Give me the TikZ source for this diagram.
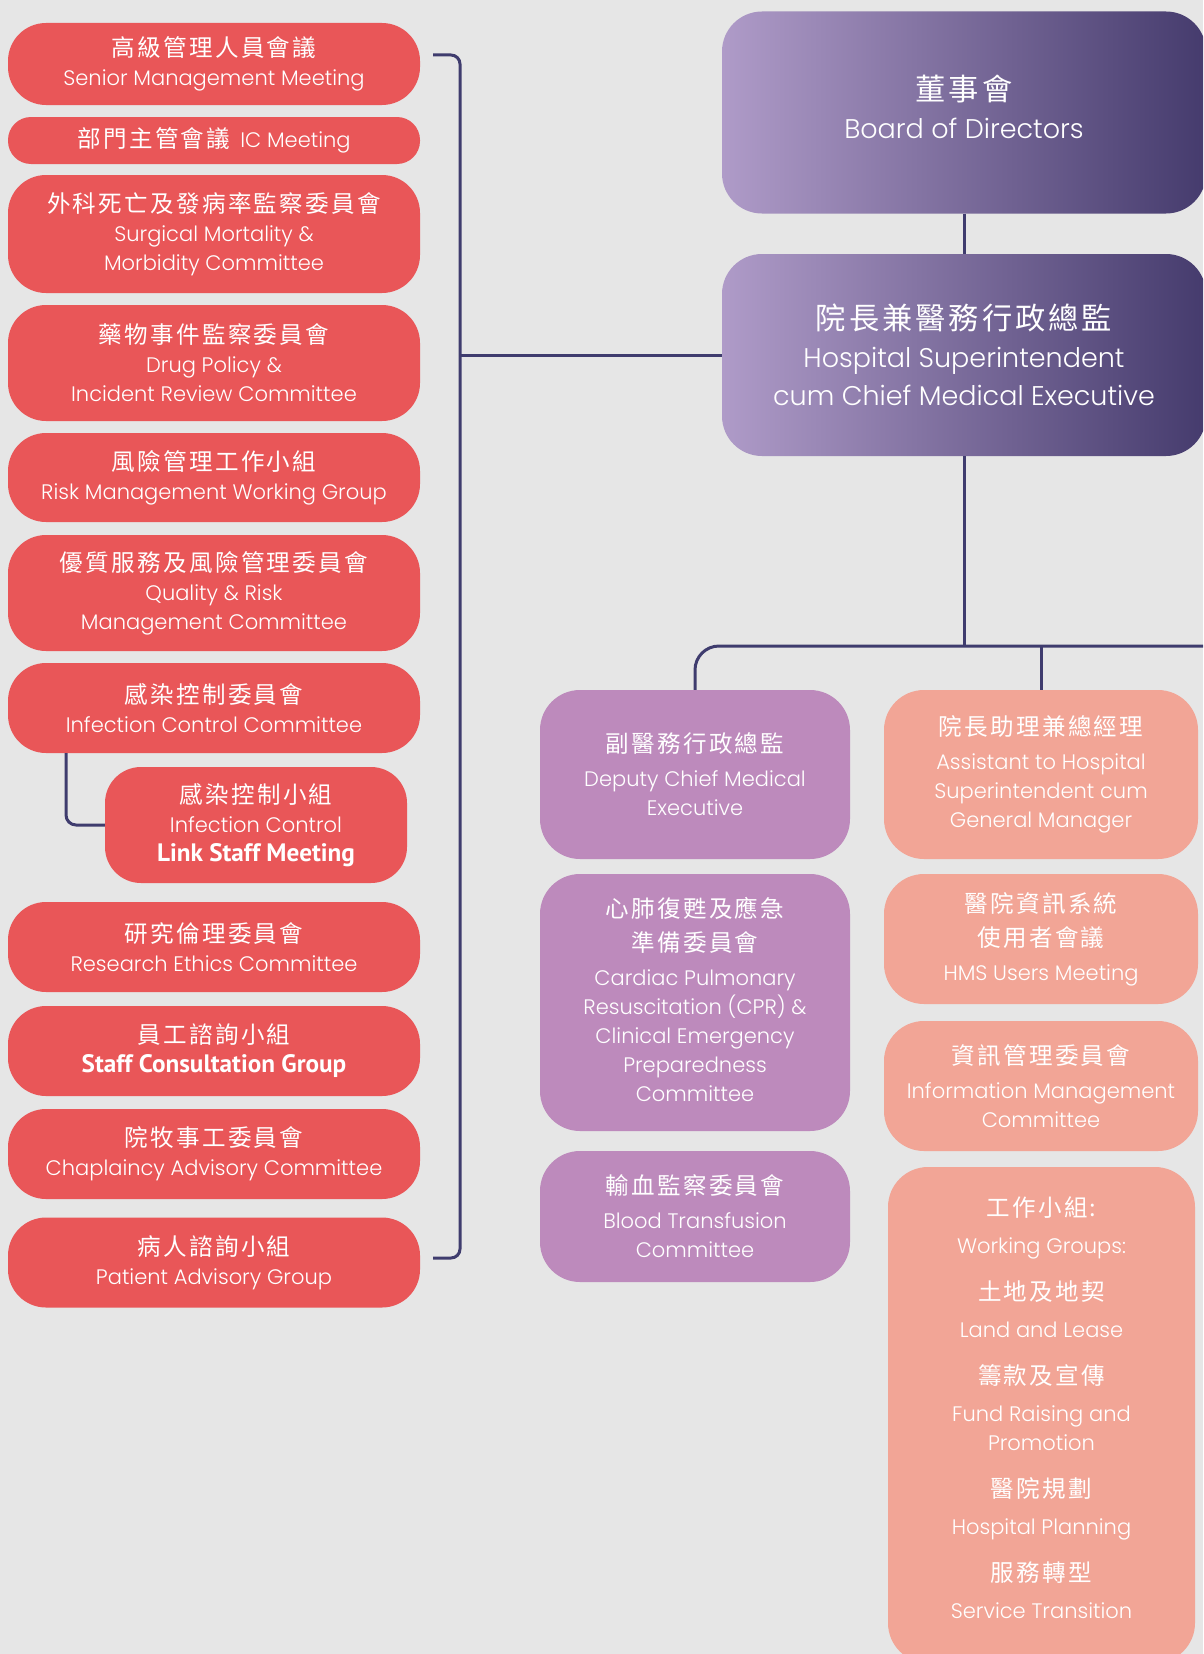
\documentclass[tikz,border=0pt]{standalone}
\usepackage{fontspec}
\setmainfont{Poppins}[UprightFont={* Light}]
\newfontfamily\cjk{Noto Sans CJK TC}[LetterSpace=10,Scale=1.12]
\newfontfamily\boldf{PT Sans}[Scale=1.2]
\definecolor{bgc}{HTML}{E6E6E6}
\definecolor{cred}{HTML}{E95658}
\definecolor{cpurp}{HTML}{BD8ABC}
\definecolor{csal}{HTML}{F2A596}
\definecolor{navy}{HTML}{3F3C6E}
\definecolor{gl}{HTML}{AF9BC8}
\definecolor{gr}{HTML}{453B6D}
\begin{document}
\begin{tikzpicture}[x=1pt,y=-1pt,
  lft/.style={font=\fontsize{21}{29}\selectfont},
  box/.style={inner sep=0pt, align=center, text=white, lft},
  redbox/.style={box, fill=cred, rounded corners=38pt, minimum width=412pt},
  purpbox/.style={box, fill=cpurp, rounded corners=40pt, minimum width=310pt},
  salbox/.style={box, fill=csal, rounded corners=40pt, minimum width=314pt},
  topbox/.style={inner sep=0pt, align=center, text=white, font=\fontsize{27}{38}\selectfont, rounded corners=40pt, left color=gl, right color=gr, minimum width=484pt, minimum height=202pt},
  conn/.style={draw=navy, line width=3pt},
]
\useasboundingbox (0,0) rectangle (1203,1654);
\clip (0,0) rectangle (1203,1654);
\fill[bgc] (0,0) rectangle (1203,1654);

% top boxes
\node[topbox] (board) at (964,112.5) {{\cjk 董事會}\\Board of Directors\\[-26pt]};
\node[topbox] (super) at (964,355) {{\cjk 院長兼醫務行政總監}\\Hospital Superintendent\\cum Chief Medical Executive};

% left column
\node[redbox, minimum height=82pt] (senior) at (214,64) {{\cjk 高級管理人員會議}\\Senior Management Meeting};
\node[redbox, minimum height=47pt, rounded corners=23pt] (icm) at (214,140.5) {{\cjk 部門主管會議}\hspace{10pt}IC Meeting};
\node[redbox, minimum height=118pt] (surg) at (214,234) {{\cjk 外科死亡及發病率監察委員會}\\Surgical Mortality \&\\Morbidity Committee};
\node[redbox, minimum height=116pt] (drug) at (214,363) {{\cjk 藥物事件監察委員會}\\Drug Policy \&\\Incident Review Committee};
\node[redbox, minimum height=89pt] (risk) at (214,477.5) {{\cjk 風險管理工作小組}\\Risk Management Working Group};
\node[redbox, minimum height=116pt] (qual) at (214,593) {{\cjk 優質服務及風險管理委員會}\\Quality \& Risk\\Management Committee};
\node[redbox, minimum height=90pt] (infc) at (214,708) {{\cjk 感染控制委員會}\\Infection Control Committee};
\node[redbox, minimum width=302pt, minimum height=116pt, rounded corners=36pt] (link) at (256,825) {{\cjk 感染控制小組}\\Infection Control\\{\boldf\bfseries Link Staff Meeting}};
\node[redbox, minimum height=90pt] (res) at (214,947) {{\cjk 研究倫理委員會}\\Research Ethics Committee};
\node[redbox, minimum height=90pt] (staff) at (214,1051) {{\cjk 員工諮詢小組}\\{\boldf\bfseries Staff Consultation Group}};
\node[redbox, minimum height=90pt] (chap) at (214,1154) {{\cjk 院牧事工委員會}\\Chaplaincy Advisory Committee};
\node[redbox, minimum height=90pt] (pat) at (214,1262.5) {{\cjk 病人諮詢小組}\\Patient Advisory Group};

% middle column
\node[purpbox, minimum height=169pt] (dep) at (695,774.5) {{\cjk 副醫務行政總監}\\[5pt]Deputy Chief Medical\\Executive};
\node[purpbox, minimum height=257pt] (cpr) at (695,1002.5) {{\cjk 心肺復甦及應急}\\[5pt]{\cjk 準備委員會}\\[5pt]Cardiac Pulmonary\\Resuscitation (CPR) \&\\Clinical Emergency\\Preparedness\\Committee\\[-23pt]};
\node[purpbox, minimum height=131pt] (blood) at (695,1216.5) {{\cjk 輸血監察委員會}\\[5pt]Blood Transfusion\\Committee};

% right column
\node[salbox, minimum height=169pt] (asst) at (1041,774.5) {{\cjk 院長助理兼總經理}\\[5pt]Assistant to Hospital\\Superintendent cum\\General Manager};
\node[salbox, minimum height=130pt] (hms) at (1041,939) {{\cjk 醫院資訊系統}\\[5pt]{\cjk 使用者會議}\\[5pt]HMS Users Meeting};
\node[salbox, minimum height=130pt] (info) at (1041,1086) {{\cjk 資訊管理委員會}\\[5pt]Information Management\\Committee};
\node[salbox, minimum width=307pt, minimum height=496pt] (wg) at (1041.5,1415) {{\cjk 工作小組:}\\[8pt]Working Groups:\\[18pt]{\cjk 土地及地契}\\[8pt]Land and Lease\\[18pt]{\cjk 籌款及宣傳}\\[8pt]Fund Raising and\\Promotion\\[18pt]{\cjk 醫院規劃}\\[8pt]Hospital Planning\\[18pt]{\cjk 服務轉型}\\[8pt]Service Transition\\[-15pt]};

% connectors
\coordinate (bTop) at (433,55);
\coordinate (bTopC) at (460,55);
\coordinate (bBotC) at (460,1258);
\coordinate (bBot) at (433,1258);
\coordinate (bV) at (460,355);
\coordinate (busR) at (1203,646);
\draw[conn, rounded corners=9pt] (bTop) -- (bTopC) -- (bBotC) -- (bBot);
\draw[conn] (super.west) -- (bV);
\draw[conn] (board.south) -- (super.north);
\draw[conn] (super.south) -- (super.south |- busR);
\draw[conn, rounded corners=24pt] (dep.north) |- (busR);
\draw[conn] (asst.north) -- (asst.north |- busR);
\draw[conn, rounded corners=10pt] ([xshift=-148pt]infc.south) |- (link.west);
\end{tikzpicture}
\end{document}
